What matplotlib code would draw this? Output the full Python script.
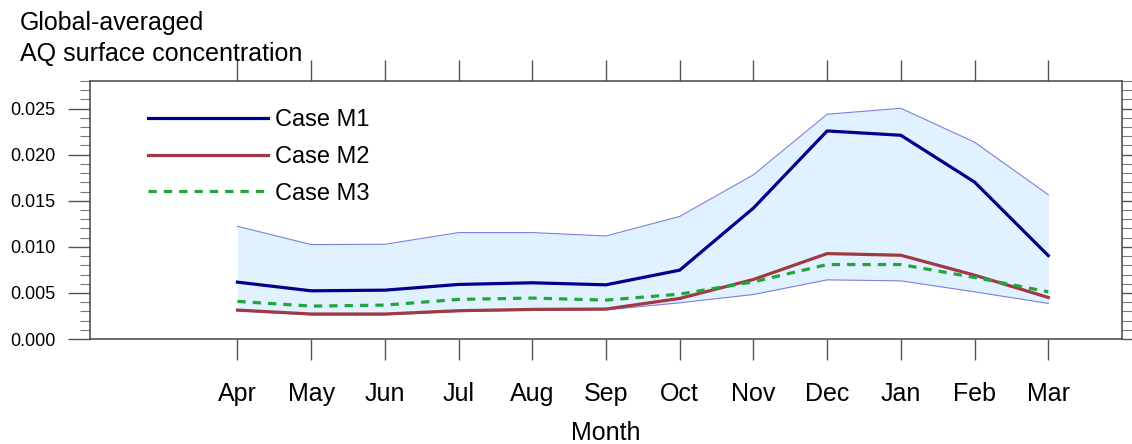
import matplotlib
matplotlib.use("Agg")
import matplotlib.pyplot as plt
from matplotlib.ticker import MultipleLocator

plt.rcParams['font.family'] = ['Liberation Sans', 'DejaVu Sans']

# monthly values
months = ['Apr', 'May', 'Jun', 'Jul', 'Aug', 'Sep',
          'Oct', 'Nov', 'Dec', 'Jan', 'Feb', 'Mar']
case_m1 = [0.00617, 0.00523, 0.00530, 0.00592, 0.00610, 0.00588,
           0.00747, 0.01421, 0.02258, 0.02211, 0.01703, 0.00905]
case_m2 = [0.00314, 0.00271, 0.00271, 0.00307, 0.00321, 0.00325,
           0.00440, 0.00646, 0.00927, 0.00909, 0.00693, 0.00451]
case_m3 = [0.00408, 0.00357, 0.00368, 0.00430, 0.00444, 0.00422,
           0.00487, 0.00620, 0.00808, 0.00808, 0.00668, 0.00512]
upper = [0.01223, 0.01025, 0.01028, 0.01155, 0.01155, 0.01118,
         0.01330, 0.01782, 0.02439, 0.02504, 0.02136, 0.01566]
lower = [0.00305, 0.00262, 0.00262, 0.00298, 0.00312, 0.00316,
         0.00393, 0.00483, 0.00642, 0.00631, 0.00512, 0.00386]

x = list(range(len(months)))

fig = plt.figure(figsize=(11.32, 4.44), dpi=100)
ax = fig.add_axes([90 / 1132, 105 / 444, 1032 / 1132, 258 / 444])

# spread band
ax.fill_between(x, lower, upper, color='#e0f1ff', lw=0)
ax.plot(x, upper, color='#7f7fdc', lw=0.8)
ax.plot(x, lower, color='#7f7fdc', lw=0.8)

ax.plot(x, case_m1, color='#00008b', lw=2.3, label='Case M1')
ax.plot(x, case_m2, color='#a03a40', lw=2.3, label='Case M2')
ax.plot(x, case_m3, color='#22a63c', lw=2.3, ls=(0, (2.6, 2.2)), label='Case M3')

ax.set_xlim(-2, 12)
ax.set_ylim(0, 0.028)

ax.set_xticks(x)
ax.set_xticklabels(months, fontsize=18)
ax.yaxis.set_major_locator(MultipleLocator(0.005))
ax.yaxis.set_minor_locator(MultipleLocator(0.001))
ax.set_yticklabels([f'{v:.3f}' for v in ax.get_yticks()], fontsize=13)

ax.tick_params(axis='x', direction='out', length=15, width=1, color='#555555',
               top=True, pad=16)
ax.tick_params(axis='y', which='major', direction='out', length=16, width=1,
               color='#555555', right=True, pad=9)
ax.tick_params(axis='y', which='minor', direction='out', length=7, width=0.8,
               color='#777777', right=True)
for s in ax.spines.values():
    s.set_color('#444444')
    s.set_linewidth(1.1)

ax.set_xlabel('Month', fontsize=18, labelpad=11)

ax.legend(loc='upper left', bbox_to_anchor=(0.0562, 0.89), frameon=False,
          fontsize=17, handlelength=5.1, handletextpad=0.3, labelspacing=0.62,
          borderpad=0, borderaxespad=0)

fig.text(20 / 1132, 1 - 11 / 444, 'Global-averaged\nAQ surface concentration',
         fontsize=18, va='top', ha='left', linespacing=1.35)

fig.savefig('out.png', dpi=100)
